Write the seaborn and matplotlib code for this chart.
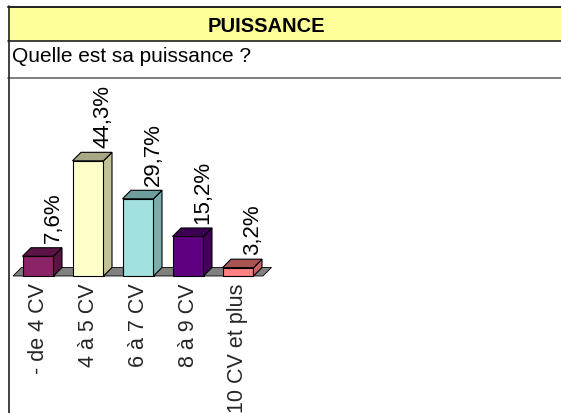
import matplotlib
matplotlib.use("Agg")
import matplotlib.pyplot as plt
from matplotlib.patches import Polygon, Rectangle
from matplotlib.lines import Line2D
import seaborn as sns

# Survey answers: engine power classes and their shares (%)
categories = ["- de 4 CV", "4 à 5 CV", "6 à 7 CV", "8 à 9 CV", "10 CV et plus"]
values = [7.6, 44.3, 29.7, 15.2, 3.2]

title = "PUISSANCE"
question = "Quelle est sa puissance ?"

# Shading for the three visible faces of each box
front_colors = ["#8B2366", "#FFFFC8", "#A2E0E0", "#5E0080", "#FF8080"]
top_colors = ["#5C1446", "#A8A884", "#6E9E9E", "#3C0052", "#A85454"]
side_colors = ["#5A1444", "#C2C296", "#7AAEAE", "#42005A", "#C86464"]

W, H = 561, 414
sns.set_theme(style="white")
plt.rcParams["font.family"] = ["Liberation Sans", "DejaVu Sans"]

fig = plt.figure(figsize=(W / 100, H / 100), dpi=100)
fig.patch.set_facecolor("white")


def fx(px):
    return px / W


def fy(py):
    return 1 - py / H


# Header band and table rules
fig.add_artist(Rectangle((fx(8), fy(42)), fx(W - 8), fy(8) - fy(42),
                         facecolor="#FFFF99", edgecolor="none", transform=fig.transFigure))
fig.add_artist(Line2D([fx(8), 1], [fy(7.5), fy(7.5)], color="#202020", lw=1.4, transform=fig.transFigure))
fig.add_artist(Line2D([fx(8), 1], [fy(42), fy(42)], color="#202020", lw=1.2, transform=fig.transFigure))
fig.add_artist(Line2D([fx(8), 1], [fy(79), fy(79)], color="#808080", lw=1.4, transform=fig.transFigure))
fig.add_artist(Line2D([fx(8.5), fx(8.5)], [fy(7), 0], color="#202020", lw=1.2, transform=fig.transFigure))

fig.text(fx(266), fy(32), title, ha="center", va="baseline", fontsize=14.5, fontweight="bold", color="black")
fig.text(fx(12), fy(62), question, ha="left", va="baseline", fontsize=15, color="black")

# Plot area: 50 px per category, 2.6 px per percent
ax = fig.add_axes([fx(13), fy(277), fx(250), 130 / H])
ax.set_facecolor("none")

sns.barplot(x=categories, y=values, hue=categories, palette=front_colors, width=0.62,
            edgecolor="black", linewidth=0.8, legend=False, ax=ax, zorder=3, saturation=1)

ax.set_xlim(-0.5, len(categories) - 0.5)
ax.set_ylim(0, 50)

depth_px = 8.5
dx = depth_px / 50.0
dy = depth_px / 2.6

# Floor
floor = Polygon([(-0.5, 0), (len(categories) - 0.5, 0),
                 (len(categories) - 0.5 + dx, dy), (-0.5 + dx, dy)],
                closed=True, facecolor="#808080", edgecolor="black", lw=0.6,
                zorder=1, clip_on=False)
ax.add_patch(floor)

for i, p in enumerate(ax.patches[:len(values)]):
    x0 = p.get_x()
    w = p.get_width()
    h = p.get_height()
    top = Polygon([(x0, h), (x0 + w, h), (x0 + w + dx, h + dy), (x0 + dx, h + dy)],
                  closed=True, facecolor=top_colors[i], edgecolor="black", lw=0.8,
                  zorder=3, clip_on=False)
    side = Polygon([(x0 + w, 0), (x0 + w + dx, dy), (x0 + w + dx, h + dy), (x0 + w, h)],
                   closed=True, facecolor=side_colors[i], edgecolor="black", lw=0.8,
                   zorder=3, clip_on=False)
    ax.add_patch(side)
    ax.add_patch(top)
    p.set_clip_on(False)

for i, v in enumerate(values):
    label = f"{v:.1f}".replace(".", ",") + "%"
    ax.text(i + 0.30, v + dy + 2.1, label, rotation=90, ha="center", va="bottom",
            fontsize=16, color="black", clip_on=False)

ax.set_xlabel("")
ax.set_ylabel("")
ax.set_yticks([])
ax.set_xticks(range(len(categories)))
ax.set_xticklabels(categories, rotation=90, va="top", ha="center", fontsize=15.5)
ax.tick_params(axis="x", length=0, pad=4.5)
for s in ax.spines.values():
    s.set_visible(False)

fig.savefig("out.png", dpi=100)
